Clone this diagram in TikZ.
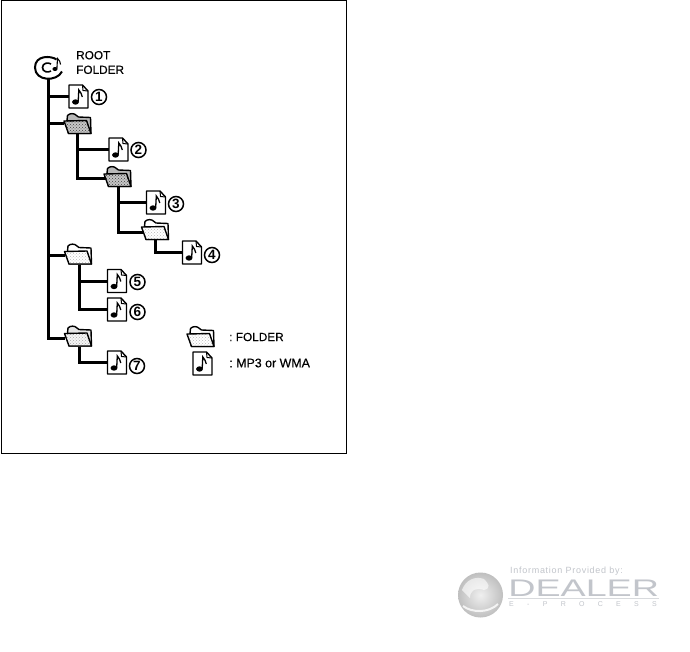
\documentclass[tikz,border=0pt]{standalone}
\usepackage{fontspec}
\usetikzlibrary{patterns}
\setmainfont{Liberation Sans}
\definecolor{logogray}{HTML}{C2C5CB}
\definecolor{logolight}{HTML}{D8DADD}
\tikzset{
  x=1pt,y=-1pt,
  filebox/.style={minimum width=19pt,minimum height=23pt,inner sep=0pt,outer sep=0pt},
  folderbox/.style={minimum width=27pt,minimum height=21pt,inner sep=0pt,outer sep=0pt},
  rootbox/.style={minimum width=26pt,minimum height=21pt,inner sep=0pt,outer sep=0pt},
  branch/.style={draw=black,line width=3pt},
  subbranch/.style={draw=black,line width=3pt},
  iconline/.style={draw=black,line width=1.4pt,line join=round},
  numcircle/.style={circle,draw=black,line width=1.5pt,minimum size=15pt,inner sep=0pt,font=\fontsize{13.5}{14}\selectfont\bfseries},
  lbl/.style={anchor=west,inner sep=0pt,align=left,font=\fontsize{11.8}{14.6}\selectfont\addfontfeature{FakeBold=0.25}},
}
\newcommand{\notedraw}{%
  \fill[black] (-3,5.5) ellipse[x radius=3.4,y radius=2.7];
  \draw[black,line width=1.3pt] (-0.3,5) -- (0.3,-6.5) .. controls (1,-3.5) and (4.5,-3) .. (3.8,0.5);
}
\newcommand{\fileart}[1]{%
  \begin{scope}[shift={(#1)}]
    \filldraw[iconline,fill=white] (-9.5,-11.5) -- (4,-11.5) -- (9.5,-5.5) -- (9.5,11.5) -- (-9.5,11.5) -- cycle;
    \draw[black,line width=1pt] (4,-11.5) -- (4.5,-6) -- (9.5,-5.5);
    \notedraw
  \end{scope}}
\newcommand{\folderart}[4]{%
  \begin{scope}[shift={(#1)}]
    \filldraw[iconline,fill=#2] (-10.5,-3) -- (-10,-8) .. controls (-8,-10.5) and (-3,-10.5) .. (-1,-8) -- (1,-6.5) -- (13,-6) -- (13.5,10) -- (-9,10) -- cycle;
    \fill[#3,draw=none] (-13.5,-2.5) -- (9,-3) -- (13.5,10) -- (-9,10) -- cycle;
    \fill[pattern=crosshatch dots,pattern color=#4] (-13.5,-2.5) -- (9,-3) -- (13.5,10) -- (-9,10) -- cycle;
    \draw[iconline] (-13.5,-2.5) -- (9,-3) -- (13.5,10) -- (-9,10) -- cycle;
  \end{scope}}
\begin{document}
\begin{tikzpicture}
\useasboundingbox (0,0) rectangle (690,651);
\fill[white] (0,0) rectangle (690,651);
\draw[black,line width=1pt] (1,0.5) rectangle (346.5,453);

% root
\node[rootbox] (root) at (48,67.5) {};
\begin{scope}[shift={(root)}]
  \draw[black,line width=2pt] (8.5,-8) .. controls (3,-12) and (-13,-12.5) .. (-13,0) .. controls (-13,14) and (9,14.5) .. (14,4);
  \draw[black,line width=1.6pt] (3,-3.5) .. controls (0,-5.5) and (-5.5,-4.5) .. (-5.5,0) .. controls (-5.5,4.5) and (0,5.5) .. (3,3.5);
  \fill[black] (7,1.5) ellipse[x radius=2.6,y radius=2];
  \draw[black,line width=1.1pt] (8.9,1) -- (9.5,-9) .. controls (10.5,-6.5) and (13.5,-6) .. (12.5,-3);
\end{scope}
\node[lbl] (roottext) at (76,62.5) {ROOT\\FOLDER};

% files and folders
\node[filebox] (f1) at (78.5,96.5) {};
\node[folderbox] (d1) at (77.5,123.5) {};
\node[filebox] (f2) at (118.5,149.5) {};
\node[folderbox] (d2) at (117.5,176.5) {};
\node[filebox] (f3) at (156,202.5) {};
\node[folderbox] (d3) at (155,229.5) {};
\node[filebox] (f4) at (192,252.5) {};
\node[folderbox] (d4) at (78,254) {};
\node[filebox] (f5) at (117,281) {};
\node[filebox] (f6) at (117,309.5) {};
\node[folderbox] (d5) at (78,336) {};
\node[filebox] (f7) at (117,362.5) {};
\node[folderbox] (lgd) at (200.5,336.5) {};
\node[filebox] (lgf) at (202.5,363.5) {};

% connectors
\draw[branch] (root.south) |- (f1.west);
\draw[branch] (root.south) |- (d1.west);
\draw[branch] (root.south) |- ([yshift=-1pt]d4.west);
\draw[branch] (root.south) |- ([yshift=-2pt]d5.west);
\draw[subbranch] (d1.south) |- (f2.west);
\draw[subbranch] (d1.south) |- ([yshift=-1.5pt,xshift=3pt]d2.west);
\draw[subbranch] ([xshift=1pt]d2.south) |- (f3.west);
\draw[subbranch] ([xshift=1pt]d2.south) |- ([yshift=-2.5pt,xshift=3pt]d3.west);
\draw[subbranch] (d3.south) |- (f4.west);
\draw[subbranch] ([xshift=1pt]d4.south) |- (f5.west);
\draw[subbranch] ([xshift=1pt]d4.south) |- (f6.west);
\draw[subbranch] ([xshift=1pt]d5.south) |- (f7.west);

% icons
\fileart{f1}\fileart{f2}\fileart{f3}\fileart{f4}\fileart{f5}\fileart{f6}\fileart{f7}\fileart{lgf}
\folderart{d1}{gray!55}{gray!45}{black!75}\folderart{d2}{gray!55}{gray!45}{black!75}
\folderart{d3}{white}{white}{gray!55}\folderart{d4}{white}{white}{gray!55}\folderart{d5}{gray!20}{gray!8}{gray!70}\folderart{lgd}{white}{white}{gray!55}

% numbers
\node[numcircle] (n1) at (99,97) {1};
\node[numcircle] (n2) at (138.5,150) {2};
\node[numcircle] (n3) at (176,204) {3};
\node[numcircle] (n4) at (212,255) {4};
\node[numcircle] (n5) at (137.5,282) {5};
\node[numcircle] (n6) at (137.5,312) {6};
\node[numcircle] (n7) at (137,366) {7};

% legend
\node[lbl] (lt1) at (229,337) {:\kern-1pt{} FOLDER};
\node[lbl,font=\fontsize{12.4}{14.6}\selectfont\addfontfeature{FakeBold=0.25}] (lt2) at (229,363) {:\kern-1pt{} MP3 or WMA};

% logo
\shade[inner color=gray!12,outer color=gray!50] (480.5,595) circle[radius=22.5];
\draw[white,line width=2pt,opacity=.8] (463,606) .. controls (472,613) and (489,613) .. (498,604);
\fill[white,opacity=.6] (462,590) .. controls (466,579) and (476,576) .. (484,579) .. controls (488,583) and (492,588) .. (484,590) .. controls (476,587) and (470,590) .. (470,598) -- cycle;
\node[inner sep=0pt,anchor=west,text=logogray,font=\fontsize{9}{10}\selectfont\addfontfeature{LetterSpace=8}] (info) at (510,571) {Information Provided by:};
\node[inner sep=0pt,anchor=west,text=logogray,xscale=1.57,font=\fontsize{24}{24}\selectfont] (dealer) at (508,588.5) {DEALER};
\draw[logolight,line width=1pt] (508,598.5) -- (659,598.5);
\node[inner sep=0pt,anchor=west,text=logogray,font=\fontsize{7}{8}\selectfont\addfontfeature{LetterSpace=190}] (proc) at (509,604) {E-PROCESS};
\end{tikzpicture}
\end{document}
